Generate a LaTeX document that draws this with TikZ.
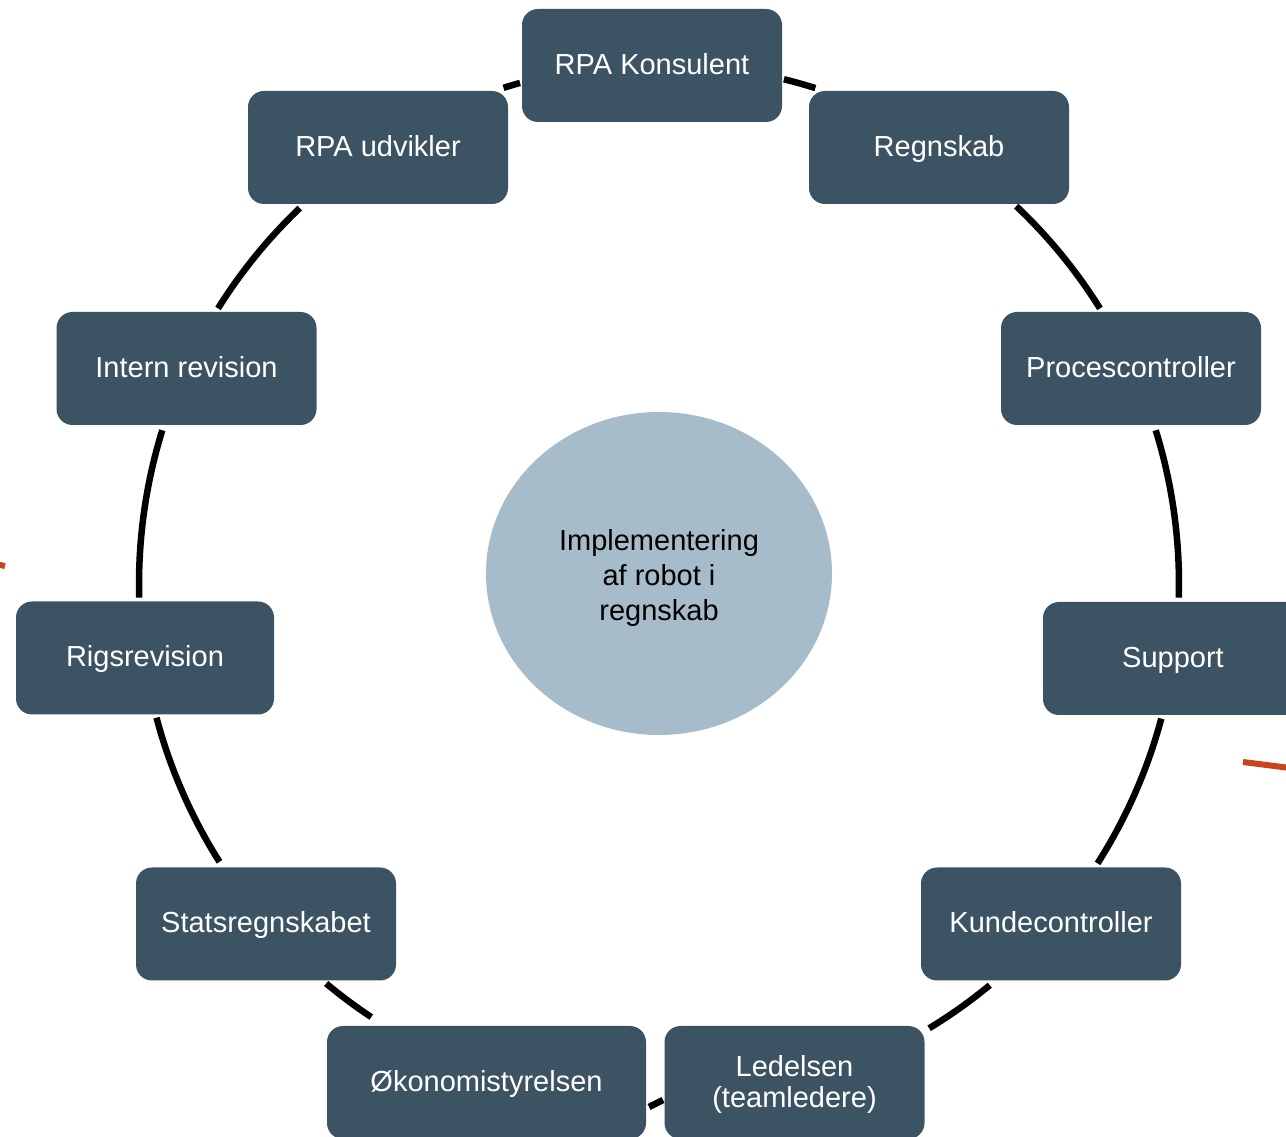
\documentclass[tikz,border=0pt]{standalone}
\usepackage{fontspec}
\setmainfont{Liberation Sans}
\usetikzlibrary{shapes.geometric}
\definecolor{boxfill}{HTML}{3C5364}
\definecolor{hubfill}{HTML}{A7BCCA}
\definecolor{strayred}{HTML}{C8441E}
\tikzset{
  rolebox/.style={draw=none, fill=boxfill, rounded corners=16pt, minimum width=260pt,
    minimum height=113pt, inner sep=0pt, text=white, align=center,
    text height=24pt, text depth=6pt,
    font=\fontsize{29}{35}\selectfont},
  hub/.style={ellipse, fill=hubfill, draw=none, minimum width=346pt, minimum height=323pt,
    inner sep=0pt, text=black, align=center, text height=100pt, text depth=6pt,
    font=\fontsize{29}{35}\selectfont},
  conn/.style={line width=6.5pt, black},
  redstroke/.style={line width=6pt, strayred}
}
\newcommand{\cyclearc}[2]{\draw[conn] ([shift={(#1:520)}]C) arc[start angle=#1, end angle=#2, radius=520];}
\begin{document}
\begin{tikzpicture}[x=1pt,y=1pt]
\clip (0,0) rectangle (1286,1136);
\fill[white] (0,0) rectangle (1286,1136);
\coordinate (C) at (659,552);

\node[hub] (hub) at (659,562.5) {Implementering\\af robot i\\regnskab};

\node[rolebox] (konsulent) at (652,1070.5) {RPA Konsulent};
\node[rolebox] (regnskab) at (939,988.5) {Regnskab};
\node[rolebox] (proces) at (1131,767.5) {Procescontroller};
\node[rolebox] (support) at (1173,477.5) {Support};
\node[rolebox] (kunde) at (1051,212) {Kundecontroller};
\node[rolebox, font=\fontsize{29}{31}\selectfont, text height=56pt] (ledelsen) at (794.5,53.5) {Ledelsen\\(teamledere)};
\node[rolebox, minimum width=319pt] (okonomi) at (486.5,53.5) {Økonomistyrelsen};
\node[rolebox] (stats) at (266,212) {Statsregnskabet};
\node[rolebox, minimum width=258pt] (rigs) at (145,478) {Rigsrevision};
\node[rolebox] (intern) at (186.5,767.5) {Intern revision};
\node[rolebox] (udvikler) at (378,988.5) {RPA udvikler};

% arcs of the cycle, between consecutive boxes
\cyclearc{107.4}{105.5}   % udvikler -> konsulent
\cyclearc{76.1}{72.5}     % konsulent -> regnskab
\cyclearc{46.6}{32.0}     % regnskab -> proces
\cyclearc{17.2}{-1.5}     % proces -> support
\cyclearc{-15.0}{-32.5}   % support -> kunde
\cyclearc{-50.5}{-58.7}   % kunde -> ledelsen
\coordinate (lo1) at (663,36);
\coordinate (lo2) at (649,29);
\draw[conn] (lo1) -- (lo2); % ledelsen -> okonomi
\cyclearc{-123.6}{-129.8} % okonomi -> stats
\cyclearc{-147.7}{-165.1} % stats -> rigs
\cyclearc{181.5}{162.8}   % rigs -> intern
\cyclearc{148.0}{133.7}   % intern -> udvikler

% stray red strokes at the edges
\coordinate (rl1) at (-5,572);
\coordinate (rl2) at (5,570);
\draw[redstroke] (rl1) -- (rl2);
\coordinate (rr1) at (1243,374);
\coordinate (rr2) at (1290,368);
\draw[redstroke] (rr1) -- (rr2);
\end{tikzpicture}
\end{document}
